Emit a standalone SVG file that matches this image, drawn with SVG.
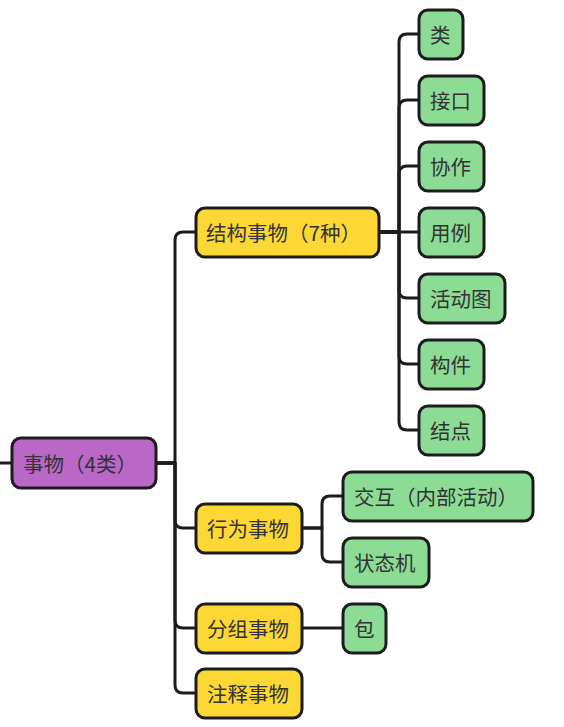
<svg xmlns="http://www.w3.org/2000/svg" width="564" height="727" viewBox="0 0 564 727">
<style>
.n rect{stroke:#1c1c1c;stroke-width:3}
.root rect{fill:#BA68C8}
.l1 rect{fill:#FDD835}
.l2 rect{fill:#8CDC96}
text{font-family:"Noto Sans CJK SC","Microsoft YaHei",sans-serif;font-size:20.5px;fill:#333333;dominant-baseline:central}
#edges path{fill:none;stroke:#1c1c1c;stroke-width:3;stroke-linejoin:round}
</style>
<rect width="564" height="727" fill="#ffffff"/>
<g id="edges">
<path d="M0 463 H12"/>
<path d="M156 463 H175 V240 Q175 232 183 232 H196"/>
<path d="M156 463 H175 V520 Q175 528 183 528 H196"/>
<path d="M156 463 H175 V620 Q175 628 183 628 H196"/>
<path d="M156 463 H175 V685 Q175 693 183 693 H196"/>
<path d="M379 232 H399 V42 Q399 34 407 34 H419"/>
<path d="M379 232 H399 V108 Q399 100 407 100 H419"/>
<path d="M379 232 H399 V174 Q399 166 407 166 H419"/>
<path d="M379 232 H419"/>
<path d="M379 232 H399 V290 Q399 298 407 298 H419"/>
<path d="M379 232 H399 V356 Q399 364 407 364 H419"/>
<path d="M379 232 H399 V422 Q399 430 407 430 H419"/>
<path d="M302 528 H322 V504 Q322 496 330 496 H343"/>
<path d="M302 528 H322 V554 Q322 562 330 562 H343"/>
<path d="M302 628 H343"/>
</g>
<g id="root" class="n root"><rect x="12" y="438" width="144" height="50" rx="9"/><text x="23" y="463">事物（4类）</text></g>
<g id="jiegou" class="n l1"><rect x="196" y="208" width="183" height="49" rx="9"/><text x="206" y="232">结构事物（7种）</text></g>
<g id="xingwei" class="n l1"><rect x="196" y="504" width="106" height="49" rx="9"/><text x="207" y="528">行为事物</text></g>
<g id="fenzu" class="n l1"><rect x="196" y="604" width="106" height="49" rx="9"/><text x="207" y="628">分组事物</text></g>
<g id="zhushi" class="n l1"><rect x="196" y="669" width="106" height="49" rx="9"/><text x="207" y="693">注释事物</text></g>
<g id="lei" class="n l2"><rect x="419" y="10" width="44" height="49" rx="9"/><text x="430" y="34">类</text></g>
<g id="jiekou" class="n l2"><rect x="419" y="76" width="65" height="49" rx="9"/><text x="430" y="100">接口</text></g>
<g id="xiezuo" class="n l2"><rect x="419" y="142" width="65" height="49" rx="9"/><text x="430" y="166">协作</text></g>
<g id="yongli" class="n l2"><rect x="419" y="208" width="65" height="49" rx="9"/><text x="430" y="232">用例</text></g>
<g id="huodongtu" class="n l2"><rect x="419" y="274" width="86" height="49" rx="9"/><text x="430" y="298">活动图</text></g>
<g id="goujian" class="n l2"><rect x="419" y="340" width="65" height="49" rx="9"/><text x="430" y="364">构件</text></g>
<g id="jiedian" class="n l2"><rect x="419" y="406" width="65" height="49" rx="9"/><text x="430" y="430">结点</text></g>
<g id="jiaohu" class="n l2"><rect x="343" y="472" width="190" height="49" rx="9"/><text x="354" y="496">交互（内部活动）</text></g>
<g id="zhuangtaiji" class="n l2"><rect x="343" y="538" width="86" height="49" rx="9"/><text x="354" y="562">状态机</text></g>
<g id="bao" class="n l2"><rect x="343" y="604" width="43" height="49" rx="9"/><text x="354" y="628">包</text></g>
</svg>
